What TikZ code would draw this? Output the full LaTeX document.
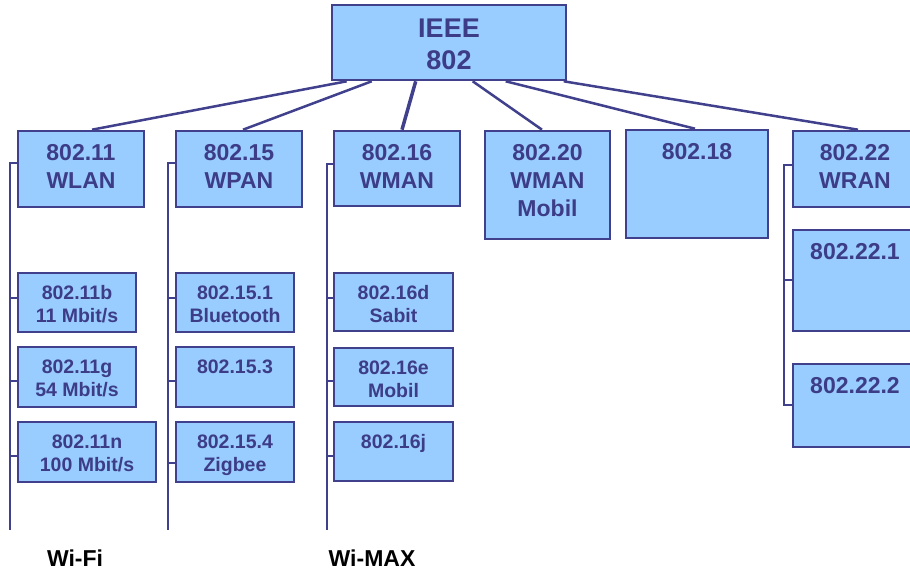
\documentclass[tikz,border=0pt]{standalone}
\usepackage{fontspec}
\setmainfont{Liberation Sans}
\definecolor{bordc}{RGB}{64,64,140}
\definecolor{txtc}{RGB}{60,60,135}
\definecolor{boxc}{RGB}{153,204,255}
\tikzset{
  box/.style={draw=bordc, fill=boxc, line width=2.6pt, inner sep=0pt},
  conn/.style={draw=bordc, line width=2.5pt},
  tone/.style={font=\fontsize{27}{32}\selectfont\bfseries, text=txtc, align=center, anchor=north, inner sep=0pt},
  ttwo/.style={font=\fontsize{23}{28}\selectfont\bfseries, text=txtc, align=center, anchor=north, inner sep=0pt},
  tthree/.style={font=\fontsize{19.5}{23}\selectfont\bfseries, text=txtc, align=center, anchor=north, inner sep=0pt},
  foot/.style={font=\fontsize{23}{28}\selectfont\bfseries, text=black, anchor=base, inner sep=0pt}
}
\begin{document}
\begin{tikzpicture}[x=1pt,y=-1pt]
\useasboundingbox (0,0) rectangle (910,575);
\clip (0,0) rectangle (910,575);
% top
\node[box, minimum width=234pt, minimum height=75pt] (ieee) at (449,42.5) {};
% level 2
\node[box, minimum width=126pt, minimum height=76pt] (b11) at (81,169) {};
\node[box, minimum width=126pt, minimum height=76pt] (b15) at (239,169) {};
\node[box, minimum width=126pt, minimum height=75pt] (b16) at (397,168.5) {};
\node[box, minimum width=125pt, minimum height=108pt] (b20) at (547.5,185) {};
\node[box, minimum width=142pt, minimum height=108pt] (b18) at (697,184) {};
\node[box, minimum width=124pt, minimum height=76pt] (b22) at (855,169) {};
\node[box, minimum width=124pt, minimum height=101pt] (b221) at (855,280.5) {};
\node[box, minimum width=124pt, minimum height=83pt] (b222) at (855,405.5) {};
% level 3
\node[box, minimum width=118pt, minimum height=59pt] (b11b) at (77,302.5) {};
\node[box, minimum width=118pt, minimum height=60pt] (b11g) at (77,377) {};
\node[box, minimum width=138pt, minimum height=60pt] (b11n) at (87,452) {};
\node[box, minimum width=118pt, minimum height=59pt] (b151) at (235,302.5) {};
\node[box, minimum width=118pt, minimum height=60pt] (b153) at (235,377) {};
\node[box, minimum width=118pt, minimum height=60pt] (b154) at (235,452) {};
\node[box, minimum width=119pt, minimum height=58pt] (b16d) at (393.5,302) {};
\node[box, minimum width=119pt, minimum height=58pt] (b16e) at (393.5,377) {};
\node[box, minimum width=119pt, minimum height=59pt] (b16j) at (393.5,451.5) {};
% texts
\node[tone] (tieee) at ([yshift=-15pt]ieee.north) {IEEE\\802};
\node[ttwo] (t11) at ([yshift=-14.5pt]b11.north) {802.11\\WLAN};
\node[ttwo] (t15) at ([yshift=-14.5pt]b15.north) {802.15\\WPAN};
\node[ttwo] (t16) at ([yshift=-14.5pt]b16.north) {802.16\\WMAN};
\node[ttwo] (t20) at ([yshift=-14.5pt]b20.north) {802.20\\WMAN\\Mobil};
\node[ttwo] (t18) at ([yshift=-15pt]b18.north) {802.18};
\node[ttwo] (t22) at ([yshift=-14.5pt]b22.north) {802.22\\WRAN};
\node[ttwo] (t221) at ([yshift=-15pt]b221.north) {802.22.1};
\node[ttwo] (t222) at ([yshift=-15pt]b222.north) {802.22.2};
\node[tthree] (t11b) at ([yshift=-13.5pt]b11b.north) {802.11b\\11 Mbit/s};
\node[tthree] (t11g) at ([yshift=-13.5pt]b11g.north) {802.11g\\54 Mbit/s};
\node[tthree] (t11n) at ([yshift=-13.5pt]b11n.north) {802.11n\\100 Mbit/s};
\node[tthree] (t151) at ([yshift=-13.5pt]b151.north) {802.15.1\\Bluetooth};
\node[tthree] (t153) at ([yshift=-13.5pt]b153.north) {802.15.3};
\node[tthree] (t154) at ([yshift=-13.5pt]b154.north) {802.15.4\\Zigbee};
\node[tthree] (t16d) at ([yshift=-13.5pt]b16d.north) {802.16d\\Sabit};
\node[tthree] (t16e) at ([yshift=-13.5pt]b16e.north) {802.16e\\Mobil};
\node[tthree] (t16j) at ([yshift=-13.5pt]b16j.north) {802.16j};
\node[foot] (wifi) at (75,566) {Wi-Fi};
\node[foot] (wimax) at (372,566) {Wi-MAX};
% connectors from top
\draw[conn] ([xshift=16pt]ieee.south west) -- ([xshift=11pt]b11.north);
\draw[conn] ([xshift=41pt]ieee.south west) -- ([xshift=4pt]b15.north);
\draw[conn, line width=3.5pt] ([xshift=85pt]ieee.south west) -- ([xshift=5pt]b16.north);
\draw[conn] ([xshift=142pt]ieee.south west) -- ([xshift=-5.5pt]b20.north);
\draw[conn] ([xshift=175pt]ieee.south west) -- ([xshift=-2pt]b18.north);
\draw[conn] ([xshift=233pt]ieee.south west) -- ([xshift=3pt]b22.north);
% trees
\coordinate (e11) at (10,530);
\coordinate (e15) at (168,530);
\coordinate (e16) at (327,530);
\coordinate (e22) at (784,405);
\draw[conn] ([yshift=6pt]b11.west) -| (e11);
\draw[conn] ([yshift=4.5pt]b11b.west) -- ([yshift=4.5pt]b11b.west -| e11);
\draw[conn] ([yshift=-4pt]b11g.west) -- ([yshift=-4pt]b11g.west -| e11);
\draw[conn] ([yshift=-4pt]b11n.west) -- ([yshift=-4pt]b11n.west -| e11);
\draw[conn] ([yshift=6pt]b15.west) -| (e15);
\draw[conn] ([yshift=4.5pt]b151.west) -- ([yshift=4.5pt]b151.west -| e15);
\draw[conn] ([yshift=-4pt]b153.west) -- ([yshift=-4pt]b153.west -| e15);
\draw[conn] ([yshift=-11pt]b154.west) -- ([yshift=-11pt]b154.west -| e15);
\draw[conn] ([yshift=4.5pt]b16.west) -| (e16);
\draw[conn] ([yshift=4pt]b16d.west) -- ([yshift=4pt]b16d.west -| e16);
\draw[conn] ([yshift=-4pt]b16e.west) -- ([yshift=-4pt]b16e.west -| e16);
\draw[conn] ([yshift=-4.5pt]b16j.west) -- ([yshift=-4.5pt]b16j.west -| e16);
\draw[conn] ([yshift=4pt]b22.west) -| (e22) -- (e22 -| b222.west);
\draw[conn] ([yshift=0.5pt]b221.west) -- ([yshift=0.5pt]b221.west -| e22);
\end{tikzpicture}
\end{document}
